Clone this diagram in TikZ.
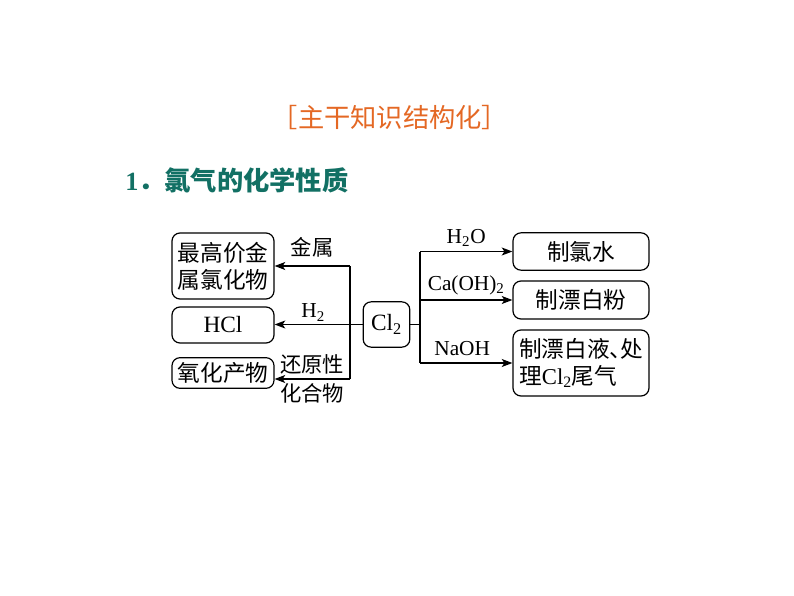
\documentclass[tikz,border=0pt]{standalone}
\usepackage{fontspec}
\setmainfont{Liberation Serif}
\newfontfamily\cjk{Noto Sans CJK SC}
\usetikzlibrary{arrows.meta,positioning}
\definecolor{TituloLaranja}{RGB}{228,104,36}
\definecolor{SecaoVerde}{RGB}{18,112,100}
\newcommand\lat[1]{{\rmfamily #1}}
\tikzset{
  produto/.style={draw, line width=0.9pt, rounded corners=6pt, align=center,
                  font=\cjk\fontsize{17}{20}\selectfont, inner sep=2pt, minimum width=76.5pt},
  reagente/.style={draw, line width=0.9pt, rounded corners=6pt, align=center,
                  font=\fontsize{17.5}{20}\selectfont, minimum width=35pt, minimum height=34pt, inner sep=1pt},
  flecha/.style={-{Stealth[length=8pt,width=6pt,inset=2pt]}, line width=0.9pt},
  tronco/.style={line width=0.9pt},
  condicao/.style={font=\cjk\fontsize{16}{19}\selectfont, inner sep=1pt},
}
\begin{document}
\begin{tikzpicture}[x=0.75pt,y=-0.75pt]
  \useasboundingbox (0,0) rectangle (794,596);

  % Titulos
  \node[font=\cjk\fontsize{19.7}{22}\selectfont, text=TituloLaranja] (tit) at (390,118) {［主干知识结构化］};
  \node[anchor=west, font=\fontsize{19.7}{22}\selectfont, text=SecaoVerde, inner sep=0pt] (sec) at (125,180)
    {\textbf{1}{\cjk\bfseries ．氯气的化学性质}};

  % Cl2 e produtos
  \node[reagente] (cl) at (386.5,324.5) {Cl\textsubscript{2}};
  \node[produto, minimum height=49.5pt] (cloreto) at (223,266) {最高价金\\属氯化物};
  \node[produto, minimum height=27pt] (hcl) at (223,325) {\lat{\fontsize{17.5}{20}\selectfont HCl}};
  \node[produto, minimum height=23pt] (oxid) at (223,373) {氧化产物};
  \node[produto, minimum width=102pt, minimum height=28pt] (agua) at (581,251.5) {制氯水};
  \node[produto, minimum width=102pt, minimum height=28.5pt] (po) at (581,300) {制漂白粉};
  \node[produto, minimum width=102pt, minimum height=49.5pt, align=left] (liquido) at (581,363)
    {制漂白液\makebox[0.45em][l]{、}处\\理\lat{Cl\textsubscript{2}}尾气};

  % Ramo esquerdo
  \coordinate (et) at (350,266);
  \coordinate (eb) at (350,379);
  \draw[tronco] (et) -- (eb);
  \draw[flecha] (et) -- (et -| cloreto.east) node[midway, condicao, yshift=14pt] {金属};
  \draw[flecha] (cl.west) -- (cl.west -| hcl.east) node[pos=0.5, condicao, yshift=9pt, xshift=-4pt] {\lat{H\textsubscript{2}}};
  \draw[flecha] (eb) -- (eb -| oxid.east)
    node[midway, condicao, yshift=11pt] {还原性}
    node[midway, condicao, yshift=-10.5pt] {化合物};

  % Ramo direito
  \coordinate (dt) at (agua.west -| 420,0);
  \coordinate (db) at (liquido.west -| 420,0);
  \draw[tronco] (cl.east) -- (cl.east -| dt);
  \draw[tronco] (dt) -- (db);
  \draw[flecha] (dt) -- (agua.west) node[midway, condicao, yshift=10pt] {\lat{H\textsubscript{2}O}};
  \draw[flecha] (po.west -| dt) -- (po.west) node[midway, condicao, yshift=11pt] {\lat{Ca(OH)\textsubscript{2}}};
  \draw[flecha] (db) -- (liquido.west) node[midway, condicao, yshift=10.5pt, xshift=-3pt] {\lat{NaOH}};
\end{tikzpicture}
\end{document}
